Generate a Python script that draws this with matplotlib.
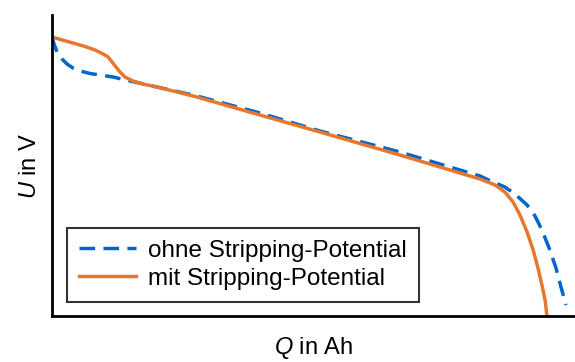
import matplotlib
matplotlib.use("Agg")
import matplotlib.pyplot as plt

# Charge in Ah (arbitrary scale, no ticks shown)
q_ohne = [0.000, 0.010, 0.024, 0.048, 0.072, 0.100, 0.134, 0.182, 0.292, 0.373, 0.502,
          0.693, 0.994, 1.281, 1.663, 1.950, 2.046, 2.108, 2.165, 2.213, 2.271, 2.309,
          2.342, 2.380, 2.409, 2.433, 2.457]
u_ohne = [4.116, 4.088, 4.056, 4.028, 4.008, 3.992, 3.980, 3.970, 3.956, 3.940, 3.916,
          3.880, 3.812, 3.740, 3.656, 3.584, 3.560, 3.536, 3.516, 3.488, 3.444, 3.400,
          3.344, 3.264, 3.192, 3.116, 3.044]

q_mit = [0.000, 0.048, 0.100, 0.158, 0.206, 0.244, 0.268, 0.287, 0.306, 0.325, 0.349,
         0.387, 0.445, 0.502, 0.693, 0.994, 1.281, 1.663, 1.950, 2.046, 2.118, 2.165,
         2.204, 2.237, 2.271, 2.300, 2.323, 2.342, 2.357, 2.366]
u_mit = [4.116, 4.104, 4.092, 4.078, 4.064, 4.048, 4.036, 4.016, 3.996, 3.976, 3.956,
         3.940, 3.926, 3.916, 3.876, 3.804, 3.736, 3.644, 3.572, 3.548, 3.524, 3.496,
         3.456, 3.404, 3.336, 3.264, 3.192, 3.124, 3.064, 3.000]

label_ohne = "ohne Stripping-Potential"
label_mit = "mit Stripping-Potential"

plt.rcParams["font.family"] = ["Liberation Sans", "DejaVu Sans"]
plt.rcParams["mathtext.fontset"] = "custom"
plt.rcParams["mathtext.it"] = "Liberation Sans:italic"

fig = plt.figure(figsize=(5.75, 3.62), dpi=100)
ax = fig.add_axes([0.0904, 0.127, 0.9096, 0.8316])

ax.plot(q_ohne, u_ohne, color="#0066CC", lw=2.5, ls=(0, (4.5, 2.4)), label=label_ohne)
ax.plot(q_mit, u_mit, color="#E8772E", lw=2.5, label=label_mit)

ax.set_xlim(0, 2.5)
ax.set_ylim(3.0, 4.204)
ax.set_xticks([])
ax.set_yticks([])
for s in ["top", "right"]:
    ax.spines[s].set_visible(False)
for s in ["left", "bottom"]:
    ax.spines[s].set_linewidth(2.0)
    ax.spines[s].set_color("black")

ax.set_xlabel("$\\mathit{Q}$ in Ah", fontsize=17, labelpad=14)
ax.set_ylabel("$\\mathit{U}$ in V", fontsize=17, labelpad=8)

leg = ax.legend(loc="lower left", bbox_to_anchor=(0.0287, 0.0465), borderaxespad=0,
                fontsize=17.5, frameon=True, fancybox=False, edgecolor="black",
                handlelength=2.35, borderpad=0.5, labelspacing=0.25, handletextpad=0.5)
leg.get_frame().set_linewidth(1.5)

fig.savefig("out.png", dpi=100)
